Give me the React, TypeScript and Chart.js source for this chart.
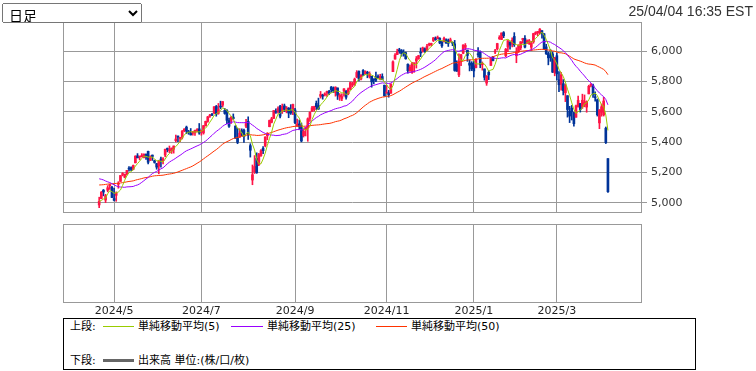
import React, { useEffect, useRef } from 'react';
import { Chart, registerables } from 'chart.js';

Chart.register(...registerables);

// ---- data: S&P 500 daily, 2024/04/22 .. 2025/04/04 ----
const dates: string[] = [
  '2024-04-22','2024-04-23','2024-04-24','2024-04-25','2024-04-26','2024-04-29','2024-04-30',
  '2024-05-01','2024-05-02','2024-05-03','2024-05-06','2024-05-07','2024-05-08','2024-05-09','2024-05-10','2024-05-13','2024-05-14','2024-05-15','2024-05-16','2024-05-17','2024-05-20','2024-05-21','2024-05-22','2024-05-23','2024-05-24','2024-05-28','2024-05-29','2024-05-30','2024-05-31',
  '2024-06-03','2024-06-04','2024-06-05','2024-06-06','2024-06-07','2024-06-10','2024-06-11','2024-06-12','2024-06-13','2024-06-14','2024-06-17','2024-06-18','2024-06-20','2024-06-21','2024-06-24','2024-06-25','2024-06-26','2024-06-27','2024-06-28',
  '2024-07-01','2024-07-02','2024-07-03','2024-07-05','2024-07-08','2024-07-09','2024-07-10','2024-07-11','2024-07-12','2024-07-15','2024-07-16','2024-07-17','2024-07-18','2024-07-19','2024-07-22','2024-07-23','2024-07-24','2024-07-25','2024-07-26','2024-07-29','2024-07-30','2024-07-31',
  '2024-08-01','2024-08-02','2024-08-05','2024-08-06','2024-08-07','2024-08-08','2024-08-09','2024-08-12','2024-08-13','2024-08-14','2024-08-15','2024-08-16','2024-08-19','2024-08-20','2024-08-21','2024-08-22','2024-08-23','2024-08-26','2024-08-27','2024-08-28','2024-08-29','2024-08-30',
  '2024-09-03','2024-09-04','2024-09-05','2024-09-06','2024-09-09','2024-09-10','2024-09-11','2024-09-12','2024-09-13','2024-09-16','2024-09-17','2024-09-18','2024-09-19','2024-09-20','2024-09-23','2024-09-24','2024-09-25','2024-09-26','2024-09-27','2024-09-30',
  '2024-10-01','2024-10-02','2024-10-03','2024-10-04','2024-10-07','2024-10-08','2024-10-09','2024-10-10','2024-10-11','2024-10-14','2024-10-15','2024-10-16','2024-10-17','2024-10-18','2024-10-21','2024-10-22','2024-10-23','2024-10-24','2024-10-25','2024-10-28','2024-10-29','2024-10-30','2024-10-31',
  '2024-11-01','2024-11-04','2024-11-05','2024-11-06','2024-11-07','2024-11-08','2024-11-11','2024-11-12','2024-11-13','2024-11-14','2024-11-15','2024-11-18','2024-11-19','2024-11-20','2024-11-21','2024-11-22','2024-11-25','2024-11-26','2024-11-27','2024-11-29',
  '2024-12-02','2024-12-03','2024-12-04','2024-12-05','2024-12-06','2024-12-09','2024-12-10','2024-12-11','2024-12-12','2024-12-13','2024-12-16','2024-12-17','2024-12-18','2024-12-19','2024-12-20','2024-12-23','2024-12-24','2024-12-26','2024-12-27','2024-12-30','2024-12-31',
  '2025-01-02','2025-01-03','2025-01-06','2025-01-07','2025-01-08','2025-01-10','2025-01-13','2025-01-14','2025-01-15','2025-01-16','2025-01-17','2025-01-21','2025-01-22','2025-01-23','2025-01-24','2025-01-27','2025-01-28','2025-01-29','2025-01-30','2025-01-31',
  '2025-02-03','2025-02-04','2025-02-05','2025-02-06','2025-02-07','2025-02-10','2025-02-11','2025-02-12','2025-02-13','2025-02-14','2025-02-18','2025-02-19','2025-02-20','2025-02-21','2025-02-24','2025-02-25','2025-02-26','2025-02-27','2025-02-28',
  '2025-03-03','2025-03-04','2025-03-05','2025-03-06','2025-03-07','2025-03-10','2025-03-11','2025-03-12','2025-03-13','2025-03-14','2025-03-17','2025-03-18','2025-03-19','2025-03-20','2025-03-21','2025-03-24','2025-03-25','2025-03-26','2025-03-27','2025-03-28','2025-03-31',
  '2025-04-01','2025-04-02','2025-04-03','2025-04-04',
];

const opens: number[] = [
  4987, 5029, 5084, 5019, 5084, 5114, 5103,
  5029, 5050, 5123, 5142, 5187, 5169, 5190, 5225, 5233, 5221, 5264, 5310, 5303, 5305, 5298, 5319, 5340, 5281, 5315, 5278, 5259, 5243,
  5287, 5278, 5315, 5357, 5344, 5341, 5354, 5410, 5441, 5424, 5431, 5476, 5499, 5467, 5459, 5460, 5461, 5474, 5488,
  5471, 5461, 5507, 5537, 5572, 5584, 5592, 5635, 5590, 5638, 5644, 5610, 5608, 5543, 5544, 5565, 5505, 5428, 5434, 5476, 5479, 5505,
  5537, 5377, 5151, 5206, 5293, 5253, 5312, 5359, 5376, 5442, 5502, 5531, 5557, 5602, 5603, 5637, 5602, 5639, 5603, 5624, 5607, 5612,
  5612, 5507, 5520, 5507, 5443, 5482, 5496, 5557, 5603, 5615, 5655, 5641, 5702, 5709, 5711, 5727, 5733, 5762, 5756, 5727,
  5757, 5698, 5688, 5737, 5737, 5719, 5751, 5778, 5776, 5829, 5866, 5816, 5872, 5852, 5857, 5833, 5834, 5816, 5827, 5833, 5816, 5832, 5775,
  5723, 5725, 5722, 5864, 5947, 5976, 6008, 6003, 5986, 5989, 5913, 5870, 5860, 5917, 5934, 5950, 5992, 6000, 6015, 6004,
  6040, 6042, 6069, 6085, 6081, 6083, 6058, 6061, 6074, 6068, 6063, 6053, 6047, 5912, 5843, 5941, 5985, 6024, 6006, 5921, 5920,
  5903, 5891, 5982, 5994, 5910, 5882, 5789, 5860, 5905, 5962, 5994, 6014, 6082, 6076, 6121, 5969, 6026, 6057, 6050, 6096,
  5969, 5998, 6021, 6073, 6083, 6058, 6050, 6025, 6060, 6115, 6121, 6118, 6134, 6114, 6027, 5983, 5971, 5981, 5857,
  5969, 5811, 5781, 5785, 5726, 5706, 5603, 5624, 5594, 5564, 5635, 5655, 5633, 5646, 5631, 5718, 5775, 5771, 5696, 5679, 5527,
  5597, 5580, 5492, 5292,
];

const highs: number[] = [
  5038, 5076, 5089, 5057, 5114, 5123, 5110,
  5096, 5073, 5140, 5181, 5200, 5191, 5215, 5239, 5238, 5250, 5311, 5325, 5305, 5325, 5324, 5323, 5341, 5311, 5316, 5282, 5261, 5281,
  5302, 5298, 5354, 5362, 5375, 5362, 5375, 5447, 5441, 5432, 5477, 5489, 5506, 5478, 5490, 5472, 5480, 5490, 5523,
  5479, 5510, 5539, 5570, 5583, 5590, 5635, 5642, 5655, 5670, 5668, 5622, 5615, 5558, 5570, 5586, 5509, 5492, 5489, 5488, 5486, 5551,
  5567, 5390, 5250, 5312, 5330, 5326, 5351, 5371, 5436, 5463, 5546, 5564, 5608, 5620, 5633, 5643, 5651, 5651, 5635, 5628, 5647, 5651,
  5623, 5552, 5546, 5526, 5485, 5497, 5560, 5600, 5636, 5637, 5671, 5690, 5734, 5716, 5725, 5736, 5741, 5767, 5764, 5765,
  5757, 5720, 5718, 5753, 5739, 5757, 5796, 5795, 5822, 5871, 5870, 5843, 5878, 5870, 5867, 5863, 5834, 5817, 5862, 5843, 5847, 5850, 5776,
  5773, 5741, 5784, 5936, 5983, 6012, 6018, 6010, 6008, 5993, 5916, 5908, 5925, 5920, 5964, 5972, 6020, 6026, 6021, 6044,
  6053, 6052, 6089, 6093, 6099, 6088, 6066, 6092, 6080, 6079, 6085, 6058, 6070, 5936, 5982, 5979, 6041, 6049, 6006, 5941, 5930,
  5935, 5950, 6022, 6001, 5928, 5882, 5838, 5871, 5953, 5965, 6011, 6051, 6101, 6119, 6128, 6017, 6069, 6062, 6087, 6121,
  6022, 6042, 6062, 6084, 6101, 6073, 6076, 6064, 6117, 6127, 6129, 6148, 6134, 6115, 6044, 5993, 6010, 5994, 5959,
  5987, 5865, 5860, 5812, 5783, 5706, 5636, 5642, 5597, 5645, 5703, 5655, 5716, 5711, 5672, 5775, 5786, 5783, 5732, 5685, 5615,
  5651, 5695, 5500, 5292,
];

const lows: number[] = [
  4969, 5027, 5047, 5002, 5073, 5089, 5035,
  5013, 5011, 5097, 5142, 5178, 5165, 5183, 5209, 5212, 5218, 5264, 5297, 5284, 5302, 5297, 5286, 5257, 5279, 5280, 5262, 5222, 5192,
  5235, 5257, 5304, 5336, 5331, 5326, 5328, 5402, 5404, 5403, 5421, 5469, 5456, 5452, 5447, 5446, 5445, 5468, 5452,
  5446, 5453, 5507, 5531, 5563, 5574, 5587, 5571, 5584, 5620, 5632, 5584, 5522, 5497, 5524, 5550, 5425, 5390, 5430, 5442, 5399, 5495,
  5418, 5302, 5120, 5194, 5195, 5245, 5307, 5324, 5369, 5416, 5501, 5527, 5555, 5590, 5591, 5560, 5589, 5602, 5593, 5561, 5583, 5581,
  5522, 5504, 5485, 5402, 5434, 5441, 5406, 5536, 5602, 5605, 5615, 5616, 5690, 5683, 5704, 5702, 5713, 5729, 5727, 5703,
  5681, 5675, 5673, 5703, 5683, 5712, 5745, 5764, 5775, 5824, 5804, 5809, 5840, 5846, 5824, 5822, 5762, 5784, 5799, 5823, 5810, 5810, 5703,
  5723, 5696, 5722, 5864, 5947, 5976, 5985, 5966, 5966, 5946, 5854, 5865, 5853, 5860, 5888, 5945, 5963, 5992, 5990, 6004,
  6034, 6033, 6062, 6070, 6079, 6048, 6024, 6060, 6051, 6030, 6059, 6035, 5867, 5866, 5832, 5903, 5982, 6007, 5932, 5869, 5871,
  5829, 5889, 5960, 5890, 5874, 5808, 5774, 5812, 5905, 5935, 5982, 6006, 6076, 6075, 6088, 5962, 5995, 6012, 6027, 6030,
  5923, 5990, 6007, 6051, 6020, 6049, 6043, 6003, 6051, 6107, 6100, 6111, 6084, 6009, 5977, 5909, 5932, 5858, 5837,
  5810, 5732, 5742, 5711, 5667, 5565, 5529, 5546, 5505, 5564, 5631, 5598, 5622, 5633, 5597, 5718, 5764, 5695, 5670, 5572, 5489,
  5571, 5572, 5391, 5069,
];

const closes: number[] = [
  5011, 5070, 5072, 5048, 5100, 5116, 5036,
  5018, 5064, 5128, 5181, 5187, 5188, 5214, 5223, 5221, 5247, 5308, 5297, 5303, 5308, 5321, 5307, 5268, 5305, 5306, 5267, 5236, 5278,
  5283, 5291, 5354, 5352, 5347, 5361, 5375, 5421, 5433, 5431, 5473, 5487, 5473, 5464, 5448, 5469, 5478, 5483, 5460,
  5475, 5509, 5537, 5567, 5572, 5577, 5633, 5585, 5615, 5631, 5667, 5589, 5544, 5505, 5564, 5555, 5427, 5399, 5459, 5464, 5436, 5522,
  5446, 5347, 5186, 5240, 5199, 5319, 5344, 5344, 5434, 5455, 5543, 5554, 5608, 5597, 5621, 5571, 5635, 5616, 5625, 5592, 5592, 5648,
  5529, 5520, 5503, 5408, 5471, 5496, 5554, 5596, 5626, 5634, 5634, 5618, 5714, 5703, 5718, 5733, 5722, 5745, 5738, 5762,
  5709, 5710, 5700, 5751, 5696, 5751, 5792, 5780, 5815, 5859, 5815, 5843, 5841, 5865, 5853, 5851, 5797, 5809, 5808, 5823, 5832, 5813, 5705,
  5728, 5712, 5783, 5929, 5973, 5996, 6001, 5984, 5985, 5949, 5871, 5894, 5917, 5917, 5949, 5969, 5987, 6021, 5998, 6032,
  6047, 6050, 6087, 6075, 6090, 6053, 6034, 6084, 6051, 6051, 6074, 6051, 5872, 5867, 5931, 5975, 6040, 6037, 5971, 5907, 5882,
  5869, 5942, 5975, 5909, 5918, 5827, 5836, 5843, 5950, 5937, 5997, 6049, 6086, 6119, 6101, 6012, 6068, 6039, 6071, 6041,
  5994, 6038, 6061, 6083, 6026, 6066, 6068, 6052, 6115, 6115, 6129, 6144, 6117, 6013, 5983, 5955, 5956, 5861, 5955,
  5850, 5778, 5843, 5739, 5770, 5615, 5572, 5599, 5522, 5639, 5675, 5615, 5676, 5663, 5668, 5768, 5777, 5712, 5693, 5581, 5612,
  5633, 5671, 5397, 5074,
];

// closes before the first shown day (2024/02/09 .. 2024/04/19), used only by the moving averages
const preCloses: number[] = [
  5027, 5022, 4953, 5001, 5030, 5006, 4976, 4982, 5087, 5089, 5070, 5078, 5069, 5096,
  5137, 5131, 5079, 5105, 5157, 5124, 5117, 5175, 5165, 5150, 5117, 5149, 5178, 5225, 5241, 5234, 5218, 5203, 5248, 5254,
  5243, 5205, 5211, 5147, 5204, 5202, 5209, 5161, 5200, 5123, 5061, 5051, 5022, 5011, 4967,
];

const maPeriods: number[] = [5, 25, 50];
const maColors: string[] = ['#99cc00', '#9900ff', '#ff3300'];
const yTicks: number[] = [5000, 5200, 5400, 5600, 5800, 6000];
const tickMonths: string[] = ['2024-05', '2024-07', '2024-09', '2024-11', '2025-01', '2025-03'];
const tickLabels: string[] = ['2024/5', '2024/7', '2024/9', '2024/11', '2025/1', '2025/3'];

const UP = '#ff1446';
const DOWN = '#003399';
const GRID = '#999999';

const tickIdx = tickMonths.map((m) => dates.findIndex((d) => d.startsWith(m)));

function sma(period: number) {
  const all = [...preCloses, ...closes];
  const off = preCloses.length;
  return closes.map((_, i) => {
    let s = 0;
    for (let k = 0; k < period; k++) s += all[off + i - k];
    return { x: i, y: s / period };
  });
}

const framePlugin = {
  id: 'frame',
  afterDraw(chart: any) {
    const { ctx, chartArea: a } = chart;
    ctx.save();
    ctx.strokeStyle = GRID;
    ctx.lineWidth = 1;
    const l = Math.round(a.left) + 0.5;
    const t = Math.round(a.top) + 0.5;
    const r = Math.round(a.right) - 0.5;
    const b = Math.round(a.bottom) - 0.5;
    ctx.strokeRect(l, t, r - l, b - t);
    ctx.restore();
  },
};

const noPad = (s: any) => {
  s.paddingTop = 0;
  s.paddingBottom = 0;
  s.paddingLeft = 0;
  s.paddingRight = 0;
};

const X_MIN = -17;
const X_MAX = 255;

export default function App() {
  const upRef = useRef<HTMLCanvasElement>(null);
  const loRef = useRef<HTMLCanvasElement>(null);

  useEffect(() => {
    const colors = closes.map((c, i) => (c >= opens[i] ? UP : DOWN));
    const bodies = closes.map((c, i) => ({ x: i, y: [opens[i], c] }));
    const wicks = closes.map((_, i) => ({ x: i, y: [lows[i], highs[i]] }));

    const lineSets = maPeriods.map((p, k) => ({
      type: 'line' as const,
      label: `SMA${p}`,
      data: sma(p),
      borderColor: maColors[k],
      borderWidth: 1,
      pointRadius: 0,
      fill: false,
      tension: 0,
      order: 0,
    }));

    const upper = new Chart(upRef.current!, {
      type: 'bar',
      data: {
        datasets: [
          ...lineSets,
          {
            type: 'bar',
            label: 'body',
            data: bodies as any,
            backgroundColor: colors,
            barThickness: 2,
            grouped: false,
            minBarLength: 1,
            borderWidth: 0,
            order: 1,
          },
          {
            type: 'bar',
            label: 'wick',
            data: wicks as any,
            backgroundColor: colors,
            barThickness: 1,
            grouped: false,
            borderWidth: 0,
            order: 2,
          },
        ] as any,
      },
      options: {
        animation: false,
        responsive: false,
        events: [],
        layout: { padding: { left: 63, top: 22, right: 0, bottom: 3 } },
        plugins: { legend: { display: false }, tooltip: { enabled: false } },
        scales: {
          x: {
            type: 'linear',
            min: X_MIN,
            max: X_MAX,
            offset: false,
            grid: { color: GRID, drawTicks: false, offset: false },
            border: { display: false },
            ticks: { display: false },
            afterBuildTicks: (s: any) => {
              s.ticks = tickIdx.map((v) => ({ value: v }));
            },
            afterFit: (s: any) => {
              s.height = 0;
              noPad(s);
            },
          },
          y: {
            type: 'linear',
            position: 'right',
            min: 4934,
            max: 6191,
            grid: { color: GRID, tickLength: 5 },
            border: { display: false },
            ticks: {
              padding: 4,
              color: '#333',
              font: { family: 'DejaVu Sans', size: 11 },
              callback: (v: any) => Number(v).toLocaleString('en-US'),
            },
            afterBuildTicks: (s: any) => {
              s.ticks = yTicks.map((v) => ({ value: v }));
            },
            afterFit: (s: any) => {
              s.width = 114;
              noPad(s);
            },
          },
        },
      } as any,
      plugins: [framePlugin],
    });

    const lower = new Chart(loRef.current!, {
      type: 'line',
      data: { datasets: [{ data: [] as any[], pointRadius: 0 }] },
      options: {
        animation: false,
        responsive: false,
        events: [],
        layout: { padding: { left: 63, top: 8, right: 114, bottom: 0 } },
        plugins: { legend: { display: false }, tooltip: { enabled: false } },
        scales: {
          x: {
            type: 'linear',
            min: X_MIN,
            max: X_MAX,
            offset: false,
            grid: { color: GRID, drawTicks: false },
            border: { display: false },
            ticks: {
              padding: 2,
              maxRotation: 0,
              autoSkip: false,
              color: '#222',
              font: { family: 'DejaVu Sans', size: 11 },
              callback: (v: any) => {
                const k = tickIdx.indexOf(Number(v));
                return k >= 0 ? tickLabels[k] : '';
              },
            },
            afterBuildTicks: (s: any) => {
              s.ticks = tickIdx.map((v) => ({ value: v }));
            },
            afterFit: (s: any) => {
              s.height = 13;
              noPad(s);
            },
          },
          y: { display: false, min: 0, max: 1 },
        },
      } as any,
      plugins: [framePlugin],
    });

    return () => {
      upper.destroy();
      lower.destroy();
    };
  }, []);

  const legendFont = '"DejaVu Sans", "Noto Sans CJK JP", sans-serif';
  const txt = (left: number, top: number, s: string) => (
    <span style={{ position: 'absolute', left, top, fontSize: 11, lineHeight: '15px', whiteSpace: 'nowrap', fontFamily: legendFont, color: '#000' }}>{s}</span>
  );
  const bar = (left: number, top: number, w: number, h: number, c: string) => (
    <span style={{ position: 'absolute', left, top, width: w, height: h, background: c }} />
  );

  return (
    <div style={{ position: 'absolute', left: 0, top: 0, width: 756, height: 371, background: '#fff', overflow: 'hidden' }}>
      <canvas ref={upRef} width={756} height={216} style={{ position: 'absolute', left: 0, top: 0, width: 756, height: 216 }} />
      <canvas ref={loRef} width={756} height={100} style={{ position: 'absolute', left: 0, top: 216, width: 756, height: 100 }} />
      <select
        defaultValue="d"
        style={{ position: 'absolute', left: 2, top: 3, width: 140, height: 20, fontSize: 14, fontFamily: '"Noto Sans CJK JP", sans-serif', padding: '0 2px', margin: 0 }}
      >
        <option value="d">日足</option>
      </select>
      <div style={{ position: 'absolute', right: 3, top: 3, fontSize: 14, lineHeight: '16px', fontFamily: '"Liberation Sans", Arial, sans-serif', color: '#333' }}>
        25/04/04 16:35 EST
      </div>
      <div style={{ position: 'absolute', left: 63, top: 318, width: 633, height: 52, border: '1px solid #000', boxSizing: 'border-box' }}>
        {txt(6, 0, '上段:')}
        {bar(39, 7, 31, 1, maColors[0])}
        {txt(74, 0, '単純移動平均(5)')}
        {bar(167, 7, 32, 1, maColors[1])}
        {txt(203, 0, '単純移動平均(25)')}
        {bar(312, 7, 31, 1, maColors[2])}
        {txt(347, 0, '単純移動平均(50)')}
        {txt(6, 34, '下段:')}
        {bar(39, 40, 31, 3, '#666')}
        {txt(74, 34, '出来高 単位:(株/口/枚)')}
      </div>
    </div>
  );
}
